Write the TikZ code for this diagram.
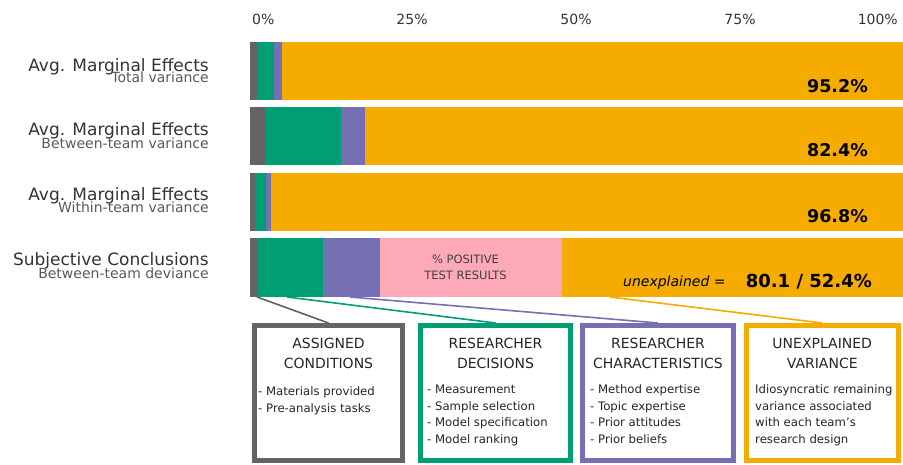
\documentclass[tikz,border=0pt]{standalone}
\usepackage{fontspec}
\setmainfont{DejaVu Sans}[BoldFont={DejaVu Sans Bold},ItalicFont={DejaVu Sans Oblique}]
\usepackage{tikz}
\usepackage{color}
\definecolor{cgray}{HTML}{646464}
\definecolor{cgreen}{HTML}{009E73}
\definecolor{cpurple}{HTML}{7570B3}
\definecolor{corange}{HTML}{F5AB00}
\definecolor{cpink}{HTML}{FDA9B7}
\tikzset{
  rowlabel/.style={anchor=base east,inner sep=0pt,text=black!80,font=\fontsize{17}{20}\selectfont},
  rowsub/.style={anchor=base east,inner sep=0pt,text=black!65,font=\fontsize{14}{16}\selectfont},
  ticklabel/.style={anchor=base,inner sep=0pt,text=black!80,font=\fontsize{14}{16}\selectfont},
  share/.style={anchor=base east,inner sep=0pt,font=\bfseries\fontsize{17.5}{20}\selectfont},
  catbox/.style={draw=#1,line width=5pt,minimum height=135pt,fill=white},
  boxtitle/.style={anchor=base,align=center,inner sep=0pt,text=black!85,font=\fontsize{14}{19.5}\selectfont},
  boxlist/.style={anchor=base west,align=left,inner sep=0pt,text=black!85,font=\fontsize{11.7}{16.7}\selectfont},
  link/.style={draw=#1,line width=1.6pt}
}

\begin{document}
\begin{tikzpicture}[x=1pt,y=1pt,yscale=-1,xscale=1]
\useasboundingbox (0,0) rectangle (903,465);

% Text Node
\node [ticklabel,anchor=base west] (t0) at (252,25) {0\%};
\node [ticklabel] (t25) at (412,25) {25\%};
\node [ticklabel] (t50) at (576,25) {50\%};
\node [ticklabel] (t75) at (740,25) {75\%};
\node [ticklabel,anchor=base east] (t100) at (898,25) {100\%};

%Shape: Rectangle [total]
\fill [corange] (250,42) rectangle (903,100);
\fill [cgray] (250,42) rectangle (257,100);
\fill [cgreen] (257,42) rectangle (274,100);
\fill [cpurple] (274,42) rectangle (282,100);
%Shape: Rectangle [between]
\fill [corange] (250,107) rectangle (903,165);
\fill [cgray] (250,107) rectangle (265,165);
\fill [cgreen] (265,107) rectangle (341,165);
\fill [cpurple] (341,107) rectangle (365,165);
%Shape: Rectangle [within]
\fill [corange] (250,173) rectangle (903,231);
\fill [cgray] (250,173) rectangle (255,231);
\fill [cgreen] (255,173) rectangle (266,231);
\fill [cpurple] (266,173) rectangle (271,231);
%Shape: Rectangle [conclusions]
\fill [corange] (250,238) rectangle (903,297);
\fill [cgray] (250,238) rectangle (257,297);
\fill [cgreen] (257,238) rectangle (323,297);
\fill [cpurple] (323,238) rectangle (380,297);
\fill [cpink] (380,238) rectangle (562,297);

% Text Node
\node [rowlabel] (r1) at (209,72) {Avg. Marginal Effects};
\node [rowsub] (r1s) at (209,82.5) {Total variance};
\node [rowlabel] (r2) at (209,136) {Avg. Marginal Effects};
\node [rowsub] (r2s) at (209,148.5) {Between-team variance};
\node [rowlabel] (r3) at (209,200.5) {Avg. Marginal Effects};
\node [rowsub] (r3s) at (209,213) {Within-team variance};
\node [rowlabel] (r4) at (209,266) {Subjective Conclusions};
\node [rowsub] (r4s) at (209,279) {Between-team deviance};

% Text Node
\node [share] (p1) at (868,93) {95.2\%};
\node [share] (p2) at (868,157) {82.4\%};
\node [share] (p3) at (868,222.5) {96.8\%};
\node [share,font=\bfseries\fontsize{18}{20}\selectfont] (p4) at (872,288) {80.1 / 52.4\%};
\node [anchor=base west,inner sep=0pt,font=\itshape\fontsize{14}{16}\selectfont] (unex) at (623,287) {unexplained =};
\node [anchor=base,align=center,inner sep=0pt,text=black!75,font=\fontsize{11.5}{16.7}\selectfont] (pos) at (465.5,280) {\% POSITIVE\\TEST RESULTS};

%Shape: Rectangle [boxes]
\node [catbox=cgray,minimum width=148pt] (assigned) at (328.5,393) {};
\node [catbox=cgreen,minimum width=150pt] (decisions) at (495.5,393) {};
\node [catbox=cpurple,minimum width=151pt] (traits) at (658,393) {};
\node [catbox=corange,minimum width=151.5pt] (unexpl) at (822.25,393) {};

%Straight Lines
\coordinate (c1) at (257,297);
\coordinate (c2) at (287,297);
\coordinate (c3) at (350,297);
\coordinate (c4) at (610,297);
\draw [link=cgray] (c1) -- (assigned.north);
\draw [link=cgreen] (c2) -- (decisions.north);
\draw [link=cpurple] (c3) -- (traits.north);
\draw [link=corange] (c4) -- (unexpl.north);

% Text Node
\node [boxtitle] (h1) at (328.5,368) {ASSIGNED\\CONDITIONS};
\node [boxtitle] (h2) at (495.5,368) {RESEARCHER\\DECISIONS};
\node [boxtitle] (h3) at (658,368) {RESEARCHER\\CHARACTERISTICS};
\node [boxtitle] (h4) at (822.25,368) {UNEXPLAINED\\VARIANCE};
% Text Node
\node [boxlist] (l1) at (258,412.7) {- Materials provided\\- Pre-analysis tasks};
\node [boxlist] (l2) at (427,443.6) {- Measurement\\- Sample selection\\- Model specification\\- Model ranking};
\node [boxlist] (l3) at (590,443.6) {- Method expertise\\- Topic expertise\\- Prior attitudes\\- Prior beliefs};
\node [boxlist] (l4) at (755,443.6) {Idiosyncratic remaining\\variance associated\\with each team's\\research design};

\end{tikzpicture}
\end{document}
